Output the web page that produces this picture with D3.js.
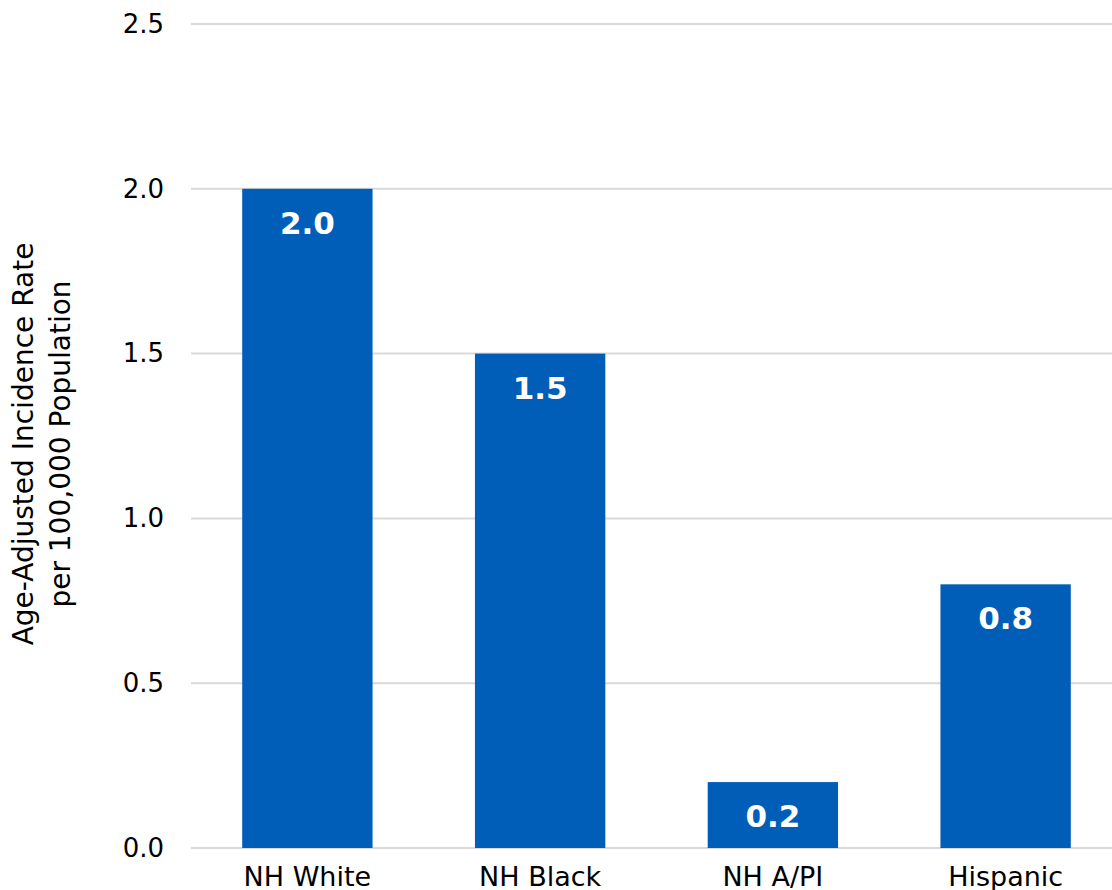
<!DOCTYPE html>
<html>
<head>
<meta charset="utf-8">
<script src="https://cdn.jsdelivr.net/npm/d3@7"></script>
<style>
  body { margin: 0; background: #fff; }
  svg { display: block; font-family: "DejaVu Sans", Verdana, sans-serif; }
</style>
</head>
<body>
<svg id="chart" width="1112" height="890"></svg>
<script>
const categories = ["NH White", "NH Black", "NH A/PI", "Hispanic"];
const values = [2.0, 1.5, 0.2, 0.8];
const yTicks = [0, 0.5, 1.0, 1.5, 2.0, 2.5];
const yTitle = ["Age-Adjusted Incidence Rate", "per 100,000 Population"];

(function () {
const svg = d3.select("#chart");
const mLeft = 191, mRight = 1122, mTop = 24, mBottom = 848;
const FONT = "DejaVu Sans, Verdana, sans-serif";

const x = d3.scaleBand().domain(categories).range([mLeft, mRight]).paddingInner(0.44).paddingOuter(0.22);
const y = d3.scaleLinear().domain([0, 2.5]).range([mBottom, mTop]);

// gridlines
svg.append("g").selectAll("line").data(yTicks).join("line")
  .attr("x1", mLeft).attr("x2", 1112)
  .attr("y1", d => y(d)).attr("y2", d => y(d))
  .attr("stroke", "#d9d9d9").attr("stroke-width", 2);

// y axis labels
const yAxis = svg.append("g").attr("transform", `translate(${mLeft},0)`)
  .call(d3.axisLeft(y).tickValues(yTicks).tickFormat(d3.format(".1f")).tickSize(0).tickPadding(27));
yAxis.select(".domain").remove();
yAxis.selectAll("text").attr("font-size", 26).attr("fill", "#000").attr("font-family", FONT);

// bars
svg.append("g").selectAll("rect").data(values).join("rect")
  .attr("x", (d, i) => x(categories[i]))
  .attr("width", x.bandwidth())
  .attr("y", d => y(d))
  .attr("height", d => y(0) - y(d))
  .attr("fill", "#005EB8");

// value labels
svg.append("g").selectAll("text").data(values).join("text")
  .attr("x", (d, i) => x(categories[i]) + x.bandwidth() / 2)
  .attr("y", d => y(d) + 45)
  .attr("text-anchor", "middle")
  .attr("font-size", 31).attr("font-weight", "bold").attr("fill", "#fff")
  .attr("font-family", FONT)
  .text(d => d3.format(".1f")(d));

// x axis labels
const xAxis = svg.append("g").attr("transform", `translate(0,${mBottom})`)
  .call(d3.axisBottom(x).tickSize(0).tickPadding(19));
xAxis.select(".domain").remove();
xAxis.selectAll("text").attr("font-size", 27).attr("fill", "#000").attr("font-family", FONT);

// y title
const t = svg.append("text")
  .attr("transform", `translate(33,444) rotate(-90)`)
  .attr("text-anchor", "middle").attr("font-size", 28).attr("fill", "#000")
  .attr("font-family", FONT);
t.selectAll("tspan").data(yTitle).join("tspan")
  .attr("x", 0).attr("y", (d, i) => i * 37)
  .text(d => d);
})();
</script>
</body>
</html>
